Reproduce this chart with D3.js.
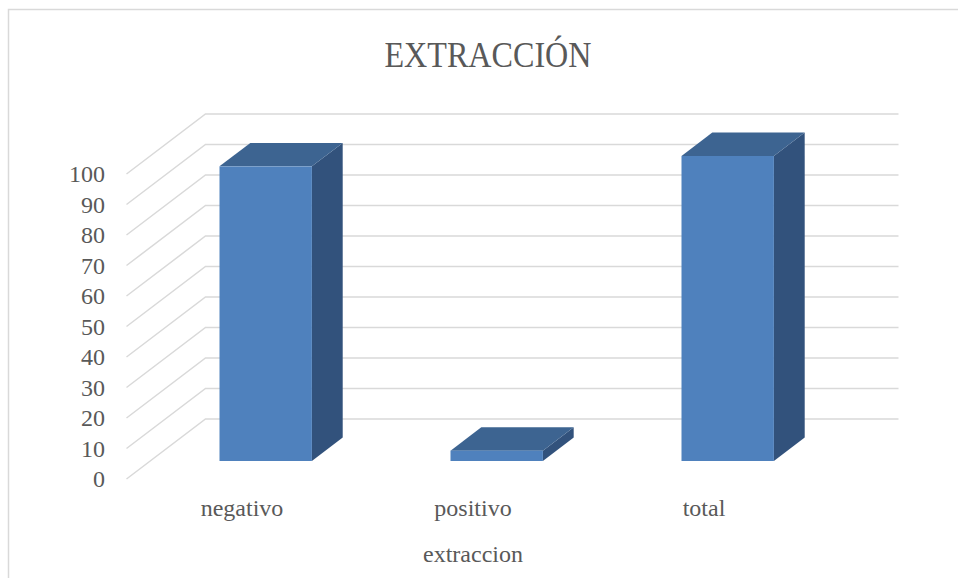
<!DOCTYPE html>
<html>
<head>
<meta charset="utf-8">
<script src="https://cdn.jsdelivr.net/npm/d3@7"></script>
<style>
  body { margin: 0; background: #fff; }
  text { font-family: "Liberation Serif", serif; fill: #595959; }
</style>
</head>
<body>
<div id="chart"></div>
<script>
// data
var categories = ["negativo", "positivo", "total"];
var values = [96.6, 3.4, 100];
var yTicks = [0, 10, 20, 30, 40, 50, 60, 70, 80, 90, 100];
var chartTitle = "EXTRACCIÓN";
var axisTitle = "extraccion";

var W = 958, H = 578;

// 3d look: full depth of the floor, and where the bars sit inside it
var depth = {dx: 79, dy: -60};
var barFrom = 0.3, barTo = 0.69;

var svg = d3.select("#chart").append("svg")
    .attr("width", W)
    .attr("height", H);

// outer chart border
svg.append("rect")
    .attr("x", 8.5).attr("y", 9.5)
    .attr("width", W).attr("height", H)
    .attr("fill", "none")
    .attr("stroke", "#d9d9d9")
    .attr("stroke-width", 1.5);

// scales for the front plane
var xScale = d3.scaleBand()
    .domain(categories)
    .range([126.5, 898.5 - depth.dx])
    .paddingInner(0)
    .paddingOuter(0);

var yScale = d3.scaleLinear()
    .domain([0, 100])
    .range([479, 174]);

// gridlines: slanted on side wall, horizontal on back wall
var grid = svg.append("g").attr("class", "grid");
grid.selectAll("path")
    .data(yTicks)
  .enter().append("path")
    .attr("d", function(d) {
      var y = yScale(d);
      return "M" + xScale.range()[0] + "," + y +
             "L" + (xScale.range()[0] + depth.dx) + "," + (y + depth.dy) +
             "L" + (xScale.range()[1] + depth.dx) + "," + (y + depth.dy);
    })
    .attr("fill", "none")
    .attr("stroke", "#d9d9d9")
    .attr("stroke-width", 1.5);

// y axis labels
svg.append("g")
    .selectAll("text")
    .data(yTicks)
  .enter().append("text")
    .attr("x", 105)
    .attr("y", function(d) { return yScale(d); })
    .attr("dy", "0.35em")
    .attr("text-anchor", "end")
    .style("font-size", "24px")
    .text(function(d) { return d; });

// bars
var ox = depth.dx * barFrom, oy = depth.dy * barFrom;
var bdx = depth.dx * (barTo - barFrom), bdy = depth.dy * (barTo - barFrom);
var bw = xScale.bandwidth() * 0.4;

var bars = svg.append("g").selectAll("g")
    .data(categories.map(function(c, i) { return {cat: c, v: values[i]}; }))
  .enter().append("g");

function geom(d) {
  var x = xScale(d.cat) + (xScale.bandwidth() - bw) / 2 + ox;
  return {x: x, top: yScale(d.v) + oy, bot: yScale(0) + oy};
}

bars.append("path") // right side
    .attr("d", function(d) {
      var g = geom(d);
      return "M" + (g.x + bw) + "," + g.top +
             "L" + (g.x + bw + bdx) + "," + (g.top + bdy) +
             "L" + (g.x + bw + bdx) + "," + (g.bot + bdy) +
             "L" + (g.x + bw) + "," + g.bot + "Z";
    })
    .attr("fill", "#32527c");

bars.append("path") // top
    .attr("d", function(d) {
      var g = geom(d);
      return "M" + g.x + "," + g.top +
             "L" + (g.x + bdx) + "," + (g.top + bdy) +
             "L" + (g.x + bw + bdx) + "," + (g.top + bdy) +
             "L" + (g.x + bw) + "," + g.top + "Z";
    })
    .attr("fill", "#3d6491");

bars.append("rect") // front
    .attr("x", function(d) { return geom(d).x; })
    .attr("y", function(d) { return geom(d).top; })
    .attr("width", bw)
    .attr("height", function(d) { var g = geom(d); return g.bot - g.top; })
    .attr("fill", "#4f81bd");

// category labels
svg.append("g")
    .selectAll("text")
    .data(categories)
  .enter().append("text")
    .attr("x", function(d) { return xScale(d) + xScale.bandwidth() / 2; })
    .attr("y", 515.5)
    .attr("text-anchor", "middle")
    .style("font-size", "24px")
    .text(function(d) { return d; });

// axis title
svg.append("text")
    .attr("x", 473)
    .attr("y", 561.5)
    .attr("text-anchor", "middle")
    .style("font-size", "24px")
    .text(axisTitle);

// chart title
svg.append("text")
    .attr("x", 488)
    .attr("y", 66.7)
    .attr("text-anchor", "middle")
    .attr("textLength", 207)
    .attr("lengthAdjust", "spacingAndGlyphs")
    .style("font-size", "35px")
    .text(chartTitle);
</script>
</body>
</html>
